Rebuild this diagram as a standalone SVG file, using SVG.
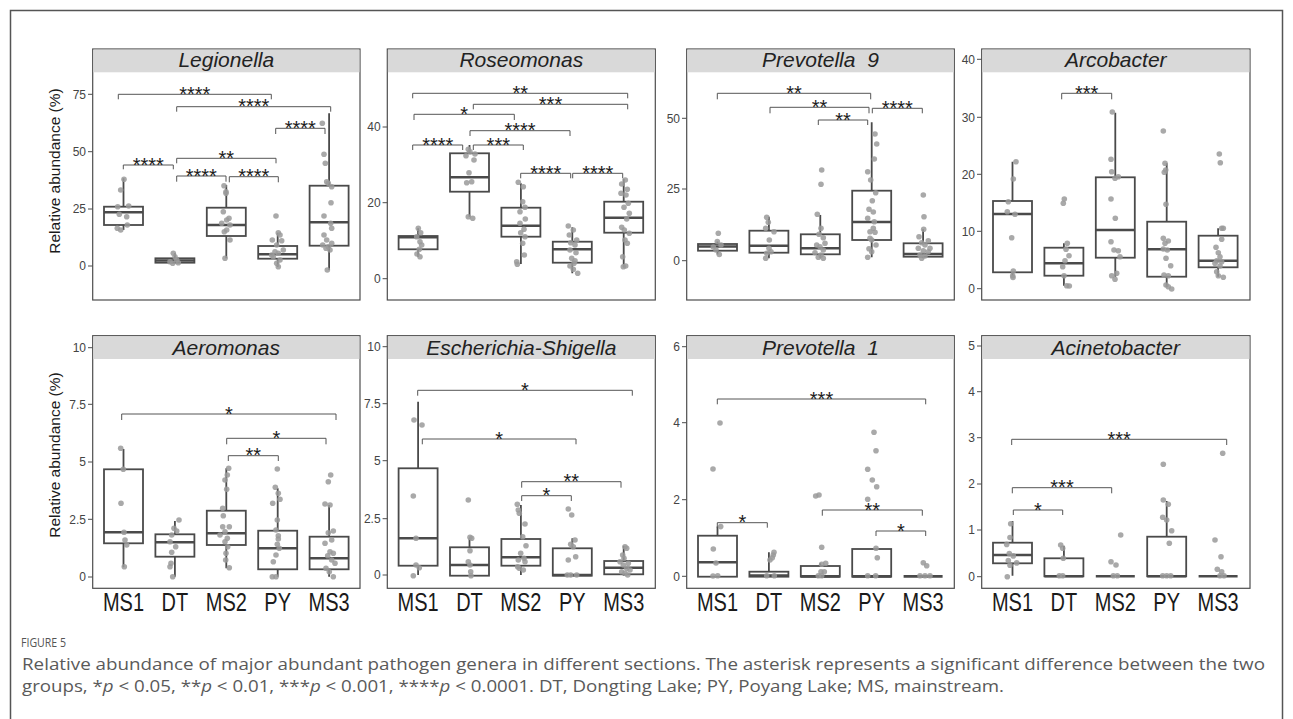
<svg xmlns="http://www.w3.org/2000/svg" xmlns:xlink="http://www.w3.org/1999/xlink" width="1293" height="719" viewBox="0 0 1293 719">
<style>
.frame{fill:none;stroke:#555;stroke-width:1.5}
.pb{fill:#fff;stroke:#4d4d4d;stroke-width:1.2}
.strip{fill:#d9d9d9}
.title{font-family:"Liberation Sans",Arial,sans-serif;font-style:italic;font-weight:normal;font-size:21px;fill:#222;text-anchor:middle}
.tk{stroke:#4d4d4d;stroke-width:1}
.tl{font-family:"Liberation Sans",Arial,sans-serif;font-size:12px;fill:#444;text-anchor:end}
.ylab{font-family:"Liberation Sans",Arial,sans-serif;font-size:15.5px;fill:#1a1a1a;text-anchor:middle}
.xl{font-family:"Liberation Sans",Arial,sans-serif;font-size:20px;fill:#1a1a1a;text-anchor:middle}
.wh{fill:none;stroke:#4a4a4a;stroke-width:1.8}
.bx{fill:#fff;stroke:#4a4a4a;stroke-width:1.8}
.md{fill:none;stroke:#4a4a4a;stroke-width:2.6}
.pts use{fill:#9a9a9a;fill-opacity:0.85}
.br{fill:none;stroke:#555;stroke-width:1}
.sig{font-family:"Liberation Sans",Arial,sans-serif;font-size:20px;fill:#1a1a1a;text-anchor:middle}
.cap{font-family:"Liberation Sans Narrow","Open Sans","Noto Sans","Liberation Sans",sans-serif;font-size:16.5px;fill:#5a5a5a}
.fig{font-family:"Liberation Sans Narrow","Open Sans","Noto Sans","Liberation Sans",sans-serif;font-size:12px;fill:#555}
</style>
<defs><circle id="d" r="2.8"/></defs>
<rect width="1293" height="719" fill="#fff"/>
<rect class="frame" x="10.5" y="10.5" width="1272" height="730"/>

<!-- Panel 1 Legionella -->
<g id="panel-legionella">
<rect class="pb" x="92.7" y="49" width="267.3" height="251"/>
<rect class="strip" x="93.3" y="49.6" width="266.1" height="22.7"/>
<text class="title" x="226.3" y="67">Legionella</text>
<path class="tk" d="M88 94.3H92.7M88 151.7H92.7M88 209H92.7M88 266H92.7"/>
<text class="tl" x="86" y="98.5">75</text><text class="tl" x="86" y="155.9">50</text><text class="tl" x="86" y="213.2">25</text><text class="tl" x="86" y="270.2">0</text>
<text class="ylab" transform="translate(60,171) rotate(-90)">Relative abundance (%)</text>
<path class="wh" d="M123.5 178.3V206.7M123.5 225V230M174.9 253.3V258.3M226.3 185V207.7M226.3 236V258.3M277.7 232.7V246M277.7 258.7V266.7M329.1 113.3V185.7M329.1 245.7V270"/>
<rect class="bx" x="104" y="206.7" width="39" height="18.3"/><rect class="bx" x="155.4" y="258.3" width="39" height="4.4"/><rect class="bx" x="206.8" y="207.7" width="39" height="28.3"/><rect class="bx" x="258.2" y="246" width="39" height="12.7"/><rect class="bx" x="309.6" y="185.7" width="39" height="60"/>
<path class="md" d="M104 212.3H143M155.4 260.5H194.4M206.8 225H245.8M258.2 254.3H297.2M309.6 222.3H348.6"/>
<g class="pts">
<use href="#d" x="124" y="179.3"/><use href="#d" x="120.7" y="190"/><use href="#d" x="117.7" y="206.7"/><use href="#d" x="128.7" y="206"/><use href="#d" x="119.3" y="214.3"/><use href="#d" x="126.7" y="216.7"/><use href="#d" x="127.3" y="225"/><use href="#d" x="117.3" y="228.3"/><use href="#d" x="120.7" y="230"/>
<use href="#d" x="173.3" y="253.3"/><use href="#d" x="175" y="256.7"/><use href="#d" x="176.7" y="260"/><use href="#d" x="170" y="261.7"/><use href="#d" x="178.3" y="262.7"/><use href="#d" x="172.7" y="263.3"/>
<use href="#d" x="224" y="185.7"/><use href="#d" x="226" y="191.7"/><use href="#d" x="226" y="193.3"/><use href="#d" x="223.3" y="211.7"/><use href="#d" x="229" y="218.3"/><use href="#d" x="226.7" y="220"/><use href="#d" x="221.7" y="223.3"/><use href="#d" x="230" y="225"/><use href="#d" x="224.3" y="231.7"/><use href="#d" x="226.7" y="230"/><use href="#d" x="230" y="240"/><use href="#d" x="225" y="258.3"/>
<use href="#d" x="276" y="216"/><use href="#d" x="278.3" y="232.7"/><use href="#d" x="280" y="235"/><use href="#d" x="272.3" y="240"/><use href="#d" x="281.7" y="240.7"/><use href="#d" x="276.7" y="245"/><use href="#d" x="283.3" y="250"/><use href="#d" x="275" y="251.7"/><use href="#d" x="278.3" y="253.3"/><use href="#d" x="271.7" y="255"/><use href="#d" x="273.3" y="256.7"/><use href="#d" x="280" y="260"/><use href="#d" x="276.7" y="263.3"/><use href="#d" x="278.3" y="266.7"/>
<use href="#d" x="322.3" y="123.3"/><use href="#d" x="324" y="154.3"/><use href="#d" x="325.3" y="163.3"/><use href="#d" x="326.7" y="181.7"/><use href="#d" x="328.3" y="183.3"/><use href="#d" x="331.7" y="186.7"/><use href="#d" x="331" y="202.7"/><use href="#d" x="324" y="216"/><use href="#d" x="330.7" y="223.3"/><use href="#d" x="331.7" y="228.3"/><use href="#d" x="324" y="235"/><use href="#d" x="326.7" y="240"/><use href="#d" x="322.7" y="245"/><use href="#d" x="328.3" y="246.7"/><use href="#d" x="326" y="248.3"/><use href="#d" x="330" y="250"/><use href="#d" x="331.7" y="243.3"/><use href="#d" x="327.3" y="270"/>
</g>
</g>

<!-- Panel 2 Roseomonas -->
<g id="panel-roseomonas">
<rect class="pb" x="387.3" y="49" width="268" height="251"/>
<rect class="strip" x="387.9" y="49.6" width="266.8" height="22.7"/>
<text class="title" x="521.3" y="67">Roseomonas</text>
<path class="tk" d="M382.6 127H387.3M382.6 202.7H387.3M382.6 278.7H387.3"/>
<text class="tl" x="380.6" y="131.2">40</text><text class="tl" x="380.6" y="206.9">20</text><text class="tl" x="380.6" y="282.9">0</text>
<path class="wh" d="M418.1 228.3V236M418.1 249.3V256.7M469.5 145V153.3M469.5 191.7V216.7M520.9 183.3V207.7M520.9 236.7V264M572.3 227.3V241.7M572.3 262.7V273.3M623.7 179V201.7M623.7 232.7V267.3"/>
<rect class="bx" x="398.6" y="236" width="39" height="13.3"/><rect class="bx" x="450" y="153.3" width="39" height="38.4"/><rect class="bx" x="501.4" y="207.7" width="39" height="29"/><rect class="bx" x="552.8" y="241.7" width="39" height="21"/><rect class="bx" x="604.2" y="201.7" width="39" height="31"/>
<path class="md" d="M398.6 237.3H437.6M450 177.3H489M501.4 225.7H540.4M552.8 249.3H591.8M604.2 217.7H643.2"/>
<g class="pts">
<use href="#d" x="418.3" y="228.3"/><use href="#d" x="420.7" y="232.7"/><use href="#d" x="416.7" y="236.7"/><use href="#d" x="420" y="241.7"/><use href="#d" x="421.7" y="245"/><use href="#d" x="419.3" y="249.3"/><use href="#d" x="417" y="254"/><use href="#d" x="420" y="256.7"/>
<use href="#d" x="468.3" y="149.3"/><use href="#d" x="470" y="151.7"/><use href="#d" x="475" y="154"/><use href="#d" x="466" y="155.7"/><use href="#d" x="474" y="160"/><use href="#d" x="469" y="172.7"/><use href="#d" x="466.7" y="182.7"/><use href="#d" x="471.7" y="181.7"/><use href="#d" x="468.3" y="216.7"/><use href="#d" x="472.7" y="218.3"/>
<use href="#d" x="518.3" y="182.3"/><use href="#d" x="523.3" y="186.7"/><use href="#d" x="522.7" y="201.7"/><use href="#d" x="525" y="207.3"/><use href="#d" x="520" y="211.7"/><use href="#d" x="525.3" y="219"/><use href="#d" x="520" y="223.3"/><use href="#d" x="524" y="229.3"/><use href="#d" x="520.7" y="232.7"/><use href="#d" x="525" y="236.7"/><use href="#d" x="522.7" y="243.3"/><use href="#d" x="524.3" y="255"/><use href="#d" x="516.7" y="261.7"/><use href="#d" x="517.3" y="264.3"/>
<use href="#d" x="568.3" y="226"/><use href="#d" x="573.3" y="230"/><use href="#d" x="569.3" y="235"/><use href="#d" x="576.7" y="240"/><use href="#d" x="570.7" y="242.7"/><use href="#d" x="575" y="245"/><use href="#d" x="570" y="250"/><use href="#d" x="576" y="252.7"/><use href="#d" x="571.7" y="258.3"/><use href="#d" x="575" y="260.7"/><use href="#d" x="574" y="263.3"/><use href="#d" x="570" y="266"/><use href="#d" x="573.3" y="269.3"/><use href="#d" x="577.7" y="273.3"/>
<use href="#d" x="625.3" y="180"/><use href="#d" x="621.7" y="184"/><use href="#d" x="627.3" y="189.3"/><use href="#d" x="621" y="193.3"/><use href="#d" x="626" y="195"/><use href="#d" x="628.3" y="203.3"/><use href="#d" x="624" y="207.3"/><use href="#d" x="629.3" y="213.3"/><use href="#d" x="626.7" y="219"/><use href="#d" x="621.7" y="227.3"/><use href="#d" x="624.3" y="230"/><use href="#d" x="629.3" y="233.3"/><use href="#d" x="625" y="240"/><use href="#d" x="627.3" y="243.3"/><use href="#d" x="622.7" y="256.7"/><use href="#d" x="625.7" y="266"/><use href="#d" x="623.3" y="266.7"/>
</g>
</g>

<!-- Panel 3 Prevotella 9 -->
<g id="panel-prevotella9">
<rect class="pb" x="686.7" y="49" width="267.6" height="251"/>
<rect class="strip" x="687.3" y="49.6" width="266.4" height="22.7"/>
<text class="title" x="820.5" y="67" word-spacing="6">Prevotella 9</text>
<path class="tk" d="M682 118.3H686.7M682 189H686.7M682 260.7H686.7"/>
<text class="tl" x="680" y="122.5">50</text><text class="tl" x="680" y="193.2">25</text><text class="tl" x="680" y="264.9">0</text>
<path class="wh" d="M717.5 241.5V244M717.5 250.7V254.5M768.9 216.7V230.7M768.9 252.7V258.3M820.3 215V234.3M820.3 254.3V258.3M871.7 122.3V190.7M871.7 240V257.3M923.1 229.3V243.3M923.1 256.7V258.3"/>
<rect class="bx" x="698" y="244" width="39" height="6.7"/><rect class="bx" x="749.4" y="230.7" width="39" height="22"/><rect class="bx" x="800.8" y="234.3" width="39" height="20"/><rect class="bx" x="852.2" y="190.7" width="39" height="49.3"/><rect class="bx" x="903.6" y="243.3" width="39" height="13.4"/>
<path class="md" d="M698 246.5H737M749.4 245.7H788.4M800.8 248.3H839.8M852.2 222H891.2M903.6 254H942.6"/>
<g class="pts">
<use href="#d" x="718.3" y="233.3"/><use href="#d" x="717.3" y="241.5"/><use href="#d" x="713.3" y="247"/><use href="#d" x="721" y="245"/><use href="#d" x="716" y="250"/><use href="#d" x="719.3" y="254.5"/>
<use href="#d" x="766.7" y="217.3"/><use href="#d" x="768.3" y="222.3"/><use href="#d" x="765.7" y="228.3"/><use href="#d" x="774" y="231.7"/><use href="#d" x="769.3" y="240"/><use href="#d" x="769" y="248.3"/><use href="#d" x="771" y="251.7"/><use href="#d" x="766.7" y="253.3"/><use href="#d" x="765.7" y="258.3"/>
<use href="#d" x="821.7" y="170"/><use href="#d" x="821" y="184.3"/><use href="#d" x="817.3" y="214.3"/><use href="#d" x="821" y="228.3"/><use href="#d" x="819" y="234.3"/><use href="#d" x="823.3" y="237.7"/><use href="#d" x="825" y="243.3"/><use href="#d" x="816.7" y="245"/><use href="#d" x="820" y="246.7"/><use href="#d" x="823.3" y="250"/><use href="#d" x="815" y="252.7"/><use href="#d" x="821" y="255"/><use href="#d" x="818.3" y="257.3"/><use href="#d" x="823.3" y="258.3"/>
<use href="#d" x="875" y="134"/><use href="#d" x="876.7" y="144"/><use href="#d" x="874.3" y="159"/><use href="#d" x="867.7" y="171.7"/><use href="#d" x="870.7" y="180"/><use href="#d" x="875.7" y="192.7"/><use href="#d" x="872.3" y="200.7"/><use href="#d" x="869" y="209.3"/><use href="#d" x="873.3" y="212"/><use href="#d" x="867.7" y="218.3"/><use href="#d" x="874.3" y="221.7"/><use href="#d" x="873.3" y="228.3"/><use href="#d" x="870" y="231.7"/><use href="#d" x="875" y="232.3"/><use href="#d" x="870" y="238.3"/><use href="#d" x="871.7" y="240"/><use href="#d" x="876" y="245"/><use href="#d" x="869" y="248.7"/><use href="#d" x="871.7" y="251.7"/><use href="#d" x="867.7" y="257.3"/>
<use href="#d" x="923.3" y="195"/><use href="#d" x="924" y="216.7"/><use href="#d" x="923.7" y="229.3"/><use href="#d" x="919" y="236.7"/><use href="#d" x="928.3" y="240.7"/><use href="#d" x="921.7" y="242.7"/><use href="#d" x="925" y="245"/><use href="#d" x="930" y="248.3"/><use href="#d" x="918.3" y="248.3"/><use href="#d" x="923.3" y="250.7"/><use href="#d" x="928.3" y="251.7"/><use href="#d" x="920" y="255"/><use href="#d" x="925" y="256"/><use href="#d" x="921.7" y="258.3"/>
</g>
</g>

<!-- Panel 4 Arcobacter -->
<g id="panel-arcobacter">
<rect class="pb" x="981.7" y="49" width="268.3" height="251"/>
<rect class="strip" x="982.3" y="49.6" width="267.1" height="22.7"/>
<text class="title" x="1115.8" y="67">Arcobacter</text>
<path class="tk" d="M977 59.3H981.7M977 117.3H981.7M977 174.3H981.7M977 231.3H981.7M977 288.7H981.7"/>
<text class="tl" x="975" y="63.5">40</text><text class="tl" x="975" y="121.5">30</text><text class="tl" x="975" y="178.5">20</text><text class="tl" x="975" y="235.5">10</text><text class="tl" x="975" y="292.9">0</text>
<path class="wh" d="M1012.5 161.7V201M1012.5 272.3V275.7M1063.9 243.3V247.7M1063.9 275.7V285.7M1115.3 112.7V177.3M1115.3 257.7V276.7M1166.7 163.3V221.7M1166.7 276.7V286.7M1218.1 228.3V235.7M1218.1 267.3V276.7"/>
<rect class="bx" x="993" y="201" width="39" height="71.3"/><rect class="bx" x="1044.4" y="247.7" width="39" height="28"/><rect class="bx" x="1095.8" y="177.3" width="39" height="80.4"/><rect class="bx" x="1147.2" y="221.7" width="39" height="55"/><rect class="bx" x="1198.6" y="235.7" width="39" height="31.6"/>
<path class="md" d="M993 214H1032M1044.4 263.3H1083.4M1095.8 230H1134.8M1147.2 249.3H1186.2M1198.6 260.7H1237.6"/>
<g class="pts">
<use href="#d" x="1016" y="161.7"/><use href="#d" x="1013.3" y="179"/><use href="#d" x="1008.3" y="201.7"/><use href="#d" x="1007.3" y="211.7"/><use href="#d" x="1015" y="214.3"/><use href="#d" x="1011.7" y="237.7"/><use href="#d" x="1013.3" y="271"/><use href="#d" x="1012.7" y="275.7"/><use href="#d" x="1013" y="277.5"/>
<use href="#d" x="1064.3" y="199"/><use href="#d" x="1063.3" y="203.3"/><use href="#d" x="1067.3" y="243.3"/><use href="#d" x="1066" y="249.3"/><use href="#d" x="1069" y="255.7"/><use href="#d" x="1065" y="260.7"/><use href="#d" x="1062.7" y="266.7"/><use href="#d" x="1064" y="275.7"/><use href="#d" x="1066.7" y="285.7"/><use href="#d" x="1069.3" y="286"/>
<use href="#d" x="1112.3" y="112"/><use href="#d" x="1111" y="159.3"/><use href="#d" x="1111.7" y="171.7"/><use href="#d" x="1115" y="178.3"/><use href="#d" x="1118.3" y="176.7"/><use href="#d" x="1111" y="199"/><use href="#d" x="1115.3" y="218.3"/><use href="#d" x="1111" y="241.7"/><use href="#d" x="1114" y="250"/><use href="#d" x="1118.3" y="250.7"/><use href="#d" x="1120" y="256.7"/><use href="#d" x="1116.7" y="273.3"/><use href="#d" x="1111.7" y="275.7"/><use href="#d" x="1115" y="279.3"/>
<use href="#d" x="1163.3" y="131"/><use href="#d" x="1165" y="163.3"/><use href="#d" x="1165.7" y="170"/><use href="#d" x="1164.3" y="172.3"/><use href="#d" x="1166" y="204.3"/><use href="#d" x="1163.3" y="238.3"/><use href="#d" x="1168.3" y="241"/><use href="#d" x="1165" y="243.3"/><use href="#d" x="1163.3" y="249"/><use href="#d" x="1167.3" y="250"/><use href="#d" x="1166" y="258.3"/><use href="#d" x="1170.7" y="265.7"/><use href="#d" x="1164" y="275"/><use href="#d" x="1168.3" y="275.7"/><use href="#d" x="1166" y="285"/><use href="#d" x="1168.3" y="286.7"/><use href="#d" x="1171.7" y="289"/>
<use href="#d" x="1219.3" y="154"/><use href="#d" x="1220.3" y="162.7"/><use href="#d" x="1221.7" y="228.3"/><use href="#d" x="1223.3" y="228.3"/><use href="#d" x="1221.7" y="239.3"/><use href="#d" x="1216" y="247.3"/><use href="#d" x="1218.3" y="252.7"/><use href="#d" x="1220" y="256.7"/><use href="#d" x="1216.7" y="260.7"/><use href="#d" x="1221.7" y="261.7"/><use href="#d" x="1215" y="263.3"/><use href="#d" x="1220" y="266"/><use href="#d" x="1216.7" y="271.7"/><use href="#d" x="1218.3" y="275.7"/><use href="#d" x="1223.3" y="277.3"/>
</g>
</g>

<!-- Panel 5 Aeromonas -->
<g id="panel-aeromonas">
<rect class="pb" x="92.7" y="335.7" width="267.3" height="252.6"/>
<rect class="strip" x="93.3" y="336.3" width="266.1" height="22.7"/>
<text class="title" x="226.3" y="354.5">Aeromonas</text>
<path class="tk" d="M88 347.7H92.7M88 404.3H92.7M88 462H92.7M88 519.3H92.7M88 577H92.7"/>
<text class="tl" x="86" y="351.9">10</text><text class="tl" x="86" y="408.5">7.5</text><text class="tl" x="86" y="466.2">5</text><text class="tl" x="86" y="523.5">2.5</text><text class="tl" x="86" y="581.2">0</text>
<text class="ylab" transform="translate(60,455) rotate(-90)">Relative abundance (%)</text>
<path class="wh" d="M123.5 449V469.3M123.5 543.3V567.3M174.9 521V534.3M174.9 556.7V576.7M226.3 468.3V510.7M226.3 545V568.3M277.7 488.3V530.7M277.7 569.3V576.7M329.1 505V536.7M329.1 569.3V576.7"/>
<rect class="bx" x="104" y="469.3" width="39" height="74"/><rect class="bx" x="155.4" y="534.3" width="39" height="22.4"/><rect class="bx" x="206.8" y="510.7" width="39" height="34.3"/><rect class="bx" x="258.2" y="530.7" width="39" height="38.6"/><rect class="bx" x="309.6" y="536.7" width="39" height="32.6"/>
<path class="md" d="M104 532.3H143M155.4 542.3H194.4M206.8 533.3H245.8M258.2 548.3H297.2M309.6 558.3H348.6"/>
<g class="pts">
<use href="#d" x="120.7" y="448.3"/><use href="#d" x="123.3" y="469.3"/><use href="#d" x="121" y="503.3"/><use href="#d" x="124" y="532.3"/><use href="#d" x="125" y="540"/><use href="#d" x="126.7" y="545"/><use href="#d" x="124.3" y="566.7"/>
<use href="#d" x="179" y="520"/><use href="#d" x="174" y="528.3"/><use href="#d" x="176.7" y="531"/><use href="#d" x="171.7" y="535"/><use href="#d" x="170" y="541.7"/><use href="#d" x="175.7" y="546.7"/><use href="#d" x="171.7" y="552.3"/><use href="#d" x="171" y="563.3"/><use href="#d" x="170" y="566.7"/><use href="#d" x="172.7" y="576.7"/>
<use href="#d" x="228.7" y="468.3"/><use href="#d" x="227.3" y="475"/><use href="#d" x="225" y="480"/><use href="#d" x="226.7" y="489.3"/><use href="#d" x="222.7" y="508.3"/><use href="#d" x="223.3" y="515.7"/><use href="#d" x="229.3" y="526.7"/><use href="#d" x="222.7" y="526.7"/><use href="#d" x="225" y="531.7"/><use href="#d" x="220" y="535"/><use href="#d" x="227.3" y="538.3"/><use href="#d" x="225" y="541.7"/><use href="#d" x="227.7" y="546.7"/><use href="#d" x="226" y="553.3"/><use href="#d" x="225.7" y="560"/><use href="#d" x="229.3" y="567.7"/>
<use href="#d" x="277.3" y="469"/><use href="#d" x="275.3" y="487.3"/><use href="#d" x="278.3" y="493.3"/><use href="#d" x="280" y="499.3"/><use href="#d" x="272.7" y="503.3"/><use href="#d" x="277.3" y="520"/><use href="#d" x="276" y="530"/><use href="#d" x="278.3" y="535.7"/><use href="#d" x="278.3" y="539"/><use href="#d" x="277.3" y="544.3"/><use href="#d" x="279.3" y="548.3"/><use href="#d" x="276" y="555"/><use href="#d" x="273.3" y="561.7"/><use href="#d" x="272.3" y="576.7"/><use href="#d" x="276" y="576.7"/>
<use href="#d" x="330.7" y="475"/><use href="#d" x="328.3" y="481.7"/><use href="#d" x="325" y="504"/><use href="#d" x="330" y="505"/><use href="#d" x="333.3" y="531"/><use href="#d" x="328.3" y="532.7"/><use href="#d" x="331.7" y="540"/><use href="#d" x="325" y="543.3"/><use href="#d" x="330" y="551.7"/><use href="#d" x="333.3" y="553.3"/><use href="#d" x="327.7" y="555.7"/><use href="#d" x="331.7" y="560"/><use href="#d" x="335" y="563.3"/><use href="#d" x="326" y="568.3"/><use href="#d" x="329.3" y="571.7"/><use href="#d" x="333.3" y="576.7"/>
</g>
</g>

<!-- Panel 6 Escherichia-Shigella -->
<g id="panel-escherichia">
<rect class="pb" x="387.3" y="335.7" width="268" height="252.6"/>
<rect class="strip" x="387.9" y="336.3" width="266.8" height="22.7"/>
<text class="title" x="521.3" y="354.5">Escherichia-Shigella</text>
<path class="tk" d="M382.6 346.7H387.3M382.6 403.7H387.3M382.6 460.7H387.3M382.6 518.7H387.3M382.6 575H387.3"/>
<text class="tl" x="380.6" y="350.9">10</text><text class="tl" x="380.6" y="407.9">7.5</text><text class="tl" x="380.6" y="464.9">5</text><text class="tl" x="380.6" y="522.9">2.5</text><text class="tl" x="380.6" y="579.2">0</text>
<path class="wh" d="M418.1 401.7V468.3M418.1 565.7V575M469.5 538.3V547.3M520.9 505V539M520.9 565.7V575M572.3 538.3V548.3M623.7 545.7V561M623.7 574.3V575.7"/>
<rect class="bx" x="398.6" y="468.3" width="39" height="97.4"/><rect class="bx" x="450" y="547.3" width="39" height="28.4"/><rect class="bx" x="501.4" y="539" width="39" height="26.7"/><rect class="bx" x="552.8" y="548.3" width="39" height="27.4"/><rect class="bx" x="604.2" y="561" width="39" height="13.3"/>
<path class="md" d="M398.6 538.3H437.6M450 565H489M501.4 557.3H540.4M552.8 575H591.8M604.2 567.7H643.2"/>
<g class="pts">
<use href="#d" x="414" y="420"/><use href="#d" x="422" y="425"/><use href="#d" x="413.3" y="496"/><use href="#d" x="416" y="538.3"/><use href="#d" x="416" y="565"/><use href="#d" x="419.3" y="567.7"/><use href="#d" x="413.3" y="575.7"/>
<use href="#d" x="468.3" y="500"/><use href="#d" x="470" y="537.3"/><use href="#d" x="471.7" y="538.3"/><use href="#d" x="470" y="550.7"/><use href="#d" x="468.3" y="561.7"/><use href="#d" x="470" y="565"/><use href="#d" x="470.7" y="571.7"/><use href="#d" x="471" y="575.7"/>
<use href="#d" x="517.3" y="504.3"/><use href="#d" x="518.3" y="510"/><use href="#d" x="519.3" y="513.3"/><use href="#d" x="525" y="524"/><use href="#d" x="522.7" y="536.7"/><use href="#d" x="526" y="545.7"/><use href="#d" x="520.7" y="553.3"/><use href="#d" x="524" y="558.3"/><use href="#d" x="518.3" y="560"/><use href="#d" x="525" y="561.7"/><use href="#d" x="517.7" y="566.7"/><use href="#d" x="519.3" y="568.3"/><use href="#d" x="523.3" y="570"/>
<use href="#d" x="568.3" y="509"/><use href="#d" x="571.7" y="515"/><use href="#d" x="575" y="540"/><use href="#d" x="570.7" y="544.3"/><use href="#d" x="573.3" y="546.7"/><use href="#d" x="575.7" y="556.7"/><use href="#d" x="568.3" y="560"/><use href="#d" x="567.3" y="575"/><use href="#d" x="570.7" y="575"/><use href="#d" x="576.7" y="575"/>
<use href="#d" x="625" y="546.7"/><use href="#d" x="626.7" y="548.3"/><use href="#d" x="622.7" y="555"/><use href="#d" x="624" y="558.3"/><use href="#d" x="620" y="561.7"/><use href="#d" x="628.3" y="563.3"/><use href="#d" x="623.3" y="565"/><use href="#d" x="626.7" y="568.3"/><use href="#d" x="630" y="570"/><use href="#d" x="621.7" y="571.7"/><use href="#d" x="625" y="573.3"/><use href="#d" x="627.7" y="575"/>
</g>
</g>

<!-- Panel 7 Prevotella 1 -->
<g id="panel-prevotella1">
<rect class="pb" x="686.7" y="335.7" width="267.6" height="252.6"/>
<rect class="strip" x="687.3" y="336.3" width="266.4" height="22.7"/>
<text class="title" x="820.5" y="354.5" word-spacing="6">Prevotella 1</text>
<path class="tk" d="M682 346.7H686.7M682 422.7H686.7M682 499.7H686.7M682 576.3H686.7"/>
<text class="tl" x="680" y="350.9">6</text><text class="tl" x="680" y="426.9">4</text><text class="tl" x="680" y="503.9">2</text><text class="tl" x="680" y="580.5">0</text>
<path class="wh" d="M717.5 526.6V535.7M768.9 552.3V571.7M820.3 563.3V566"/>
<rect class="bx" x="698" y="535.7" width="39" height="41"/><rect class="bx" x="749.4" y="571.7" width="39" height="5"/><rect class="bx" x="800.8" y="566" width="39" height="10.7"/><rect class="bx" x="852.2" y="549" width="39" height="27.7"/>
<path class="md" d="M698 562.3H737M749.4 575.5H788.4M800.8 576.4H839.8M852.2 576.4H891.2M903.6 576.4H942.6"/>
<g class="pts">
<use href="#d" x="720" y="423"/><use href="#d" x="713" y="469"/><use href="#d" x="720.7" y="526.6"/><use href="#d" x="713.3" y="549"/><use href="#d" x="716" y="563"/><use href="#d" x="717.7" y="575.7"/><use href="#d" x="713" y="576"/>
<use href="#d" x="774" y="552.3"/><use href="#d" x="773.3" y="555"/><use href="#d" x="772.3" y="557.7"/><use href="#d" x="770" y="560"/><use href="#d" x="766.7" y="575.7"/><use href="#d" x="774.3" y="575.7"/>
<use href="#d" x="819" y="495"/><use href="#d" x="815.7" y="496"/><use href="#d" x="821.7" y="547.3"/><use href="#d" x="825.7" y="563.3"/><use href="#d" x="821.7" y="564.3"/><use href="#d" x="821" y="571.7"/><use href="#d" x="824.3" y="571.7"/><use href="#d" x="818.3" y="575.7"/><use href="#d" x="821.7" y="575.7"/>
<use href="#d" x="874" y="432.3"/><use href="#d" x="876" y="450.7"/><use href="#d" x="867.7" y="469.3"/><use href="#d" x="872.3" y="480"/><use href="#d" x="876.7" y="486.7"/><use href="#d" x="867.7" y="499.3"/><use href="#d" x="876" y="548.3"/><use href="#d" x="877.3" y="557.7"/><use href="#d" x="867.7" y="575.7"/><use href="#d" x="875.7" y="575.7"/>
<use href="#d" x="923.3" y="562.7"/><use href="#d" x="926.7" y="565.7"/><use href="#d" x="920" y="575.7"/><use href="#d" x="925" y="575.7"/><use href="#d" x="930" y="575.7"/>
</g>
</g>

<!-- Panel 8 Acinetobacter -->
<g id="panel-acinetobacter">
<rect class="pb" x="981.7" y="335.7" width="268.3" height="252.6"/>
<rect class="strip" x="982.3" y="336.3" width="267.1" height="22.7"/>
<text class="title" x="1115.8" y="354.5">Acinetobacter</text>
<path class="tk" d="M977 346H981.7M977 391.7H981.7M977 437.7H981.7M977 484H981.7M977 530H981.7M977 576.7H981.7"/>
<text class="tl" x="975" y="350.2">5</text><text class="tl" x="975" y="395.9">4</text><text class="tl" x="975" y="441.9">3</text><text class="tl" x="975" y="488.2">2</text><text class="tl" x="975" y="534.2">1</text><text class="tl" x="975" y="580.9">0</text>
<path class="wh" d="M1012.5 521V542.7M1012.5 563.3V575.7M1063.9 545.7V558.3M1166.7 501V536.7"/>
<rect class="bx" x="993" y="542.7" width="39" height="20.6"/><rect class="bx" x="1044.4" y="558.3" width="39" height="18"/><rect class="bx" x="1147.2" y="536.7" width="39" height="39.6"/>
<path class="md" d="M993 555H1032M1044.4 576.3H1083.4M1095.8 576.3H1134.8M1147.2 576.3H1186.2M1198.6 576.3H1237.6"/>
<g class="pts">
<use href="#d" x="1010.7" y="523.7"/><use href="#d" x="1010" y="537.5"/><use href="#d" x="1006.7" y="544.4"/><use href="#d" x="1009.3" y="553.6"/><use href="#d" x="1013.3" y="555.9"/><use href="#d" x="1008.3" y="560.6"/><use href="#d" x="1016.7" y="562.9"/><use href="#d" x="1010" y="565.2"/><use href="#d" x="1007.3" y="576.7"/>
<use href="#d" x="1060.7" y="545"/><use href="#d" x="1062.7" y="548.3"/><use href="#d" x="1063.3" y="558.3"/><use href="#d" x="1059.3" y="575.7"/><use href="#d" x="1062.7" y="575.7"/>
<use href="#d" x="1120.7" y="535"/><use href="#d" x="1111" y="561.7"/><use href="#d" x="1116" y="565"/><use href="#d" x="1113.3" y="575.7"/><use href="#d" x="1117.3" y="575.7"/>
<use href="#d" x="1163.3" y="464.3"/><use href="#d" x="1163.3" y="500"/><use href="#d" x="1168.3" y="504.3"/><use href="#d" x="1162.7" y="517.3"/><use href="#d" x="1166.7" y="520"/><use href="#d" x="1171.7" y="530.7"/><use href="#d" x="1169.3" y="543.3"/><use href="#d" x="1162.7" y="575.7"/><use href="#d" x="1166.7" y="575.7"/><use href="#d" x="1170.7" y="575.7"/>
<use href="#d" x="1222.7" y="453.3"/><use href="#d" x="1215" y="540"/><use href="#d" x="1221" y="556.7"/><use href="#d" x="1217.3" y="569.3"/><use href="#d" x="1221.7" y="571.7"/><use href="#d" x="1220" y="575.7"/><use href="#d" x="1224" y="575.7"/>
</g>
</g>

<!-- x-axis labels -->
<g id="x-labels">
<g transform="translate(0,611) scale(1,1.3)"><text class="xl" x="123.5" y="0">MS1</text><text class="xl" x="174.9" y="0">DT</text><text class="xl" x="226.3" y="0">MS2</text><text class="xl" x="277.7" y="0">PY</text><text class="xl" x="329.1" y="0">MS3</text></g>
<g transform="translate(0,611) scale(1,1.3)"><text class="xl" x="418.1" y="0">MS1</text><text class="xl" x="469.5" y="0">DT</text><text class="xl" x="520.9" y="0">MS2</text><text class="xl" x="572.3" y="0">PY</text><text class="xl" x="623.7" y="0">MS3</text></g>
<g transform="translate(0,611) scale(1,1.3)"><text class="xl" x="717.5" y="0">MS1</text><text class="xl" x="768.9" y="0">DT</text><text class="xl" x="820.3" y="0">MS2</text><text class="xl" x="871.7" y="0">PY</text><text class="xl" x="923.1" y="0">MS3</text></g>
<g transform="translate(0,611) scale(1,1.3)"><text class="xl" x="1012.5" y="0">MS1</text><text class="xl" x="1063.9" y="0">DT</text><text class="xl" x="1115.3" y="0">MS2</text><text class="xl" x="1166.7" y="0">PY</text><text class="xl" x="1218.1" y="0">MS3</text></g>
</g>

<!-- significance brackets (connectors) -->
<g id="connectors">
<path class="br" d="M118.3 99.3V94.3H271.3V99.3M176.7 111.7V106.7H330.7V111.7M275.7 134V128.3H325V134M123.3 169.3V165H173.3V169.3M176.7 163.3V158.3H276V163.3M176.7 181.7V176H226V181.7M229.3 182.3V176.7H278.3V182.3"/>
<text class="sig" x="194.8" y="100.8">****</text><text class="sig" x="253.7" y="113.2">****</text><text class="sig" x="300.3" y="134.8">****</text><text class="sig" x="148.3" y="171.5">****</text><text class="sig" x="226.3" y="164.8">**</text><text class="sig" x="201.3" y="182.5">****</text><text class="sig" x="253.8" y="183.2">****</text>
<path class="br" d="M412.7 98.3V93.3H627.7V98.3M473.3 109.3V104.3H627.7V109.3M414 120V114.3H514.3V120M470 136V130.7H570V136M412.7 150V145H462.7V150M473.3 150V145H523.3V150M520.7 178.3V173.3H570.7V178.3M572.7 178.3V173.3H622.7V178.3"/>
<text class="sig" x="520.2" y="99.8">**</text><text class="sig" x="550.5" y="110.8">***</text><text class="sig" x="464.2" y="120.8">*</text><text class="sig" x="520" y="137.2">****</text><text class="sig" x="437.7" y="151.5">****</text><text class="sig" x="498.3" y="151.5">***</text><text class="sig" x="545.7" y="179.8">****</text><text class="sig" x="597.7" y="179.8">****</text>
<path class="br" d="M717.3 99.3V93.3H870.7V99.3M770 113.3V107.3H869V113.3M818.3 125V120H867.7V125M872.3 113.3V108.3H922.3V113.3"/>
<text class="sig" x="794" y="99.8">**</text><text class="sig" x="819.5" y="113.8">**</text><text class="sig" x="843" y="126.5">**</text><text class="sig" x="897.3" y="114.8">****</text>
<path class="br" d="M1061.7 99.3V93.3H1111.7V99.3"/>
<text class="sig" x="1086.7" y="99.8">***</text>
<path class="br" d="M121.7 420V414H336V420M226.7 444.3V438.3H326V444.3M228.3 461V455.7H278.3V461"/>
<text class="sig" x="228.8" y="420.5">*</text><text class="sig" x="276.3" y="444.8">*</text><text class="sig" x="253.3" y="462.2">**</text>
<path class="br" d="M417.7 395.7V390.3H632.3V395.7M422.3 444.3V439H576V444.3M521.7 487.7V481.7H621V487.7M521.7 501V495.7H571.3V501"/>
<text class="sig" x="525" y="396.8">*</text><text class="sig" x="499.2" y="445.5">*</text><text class="sig" x="571.3" y="488.2">**</text><text class="sig" x="546.5" y="502.2">*</text>
<path class="br" d="M717.3 404.3V399H925.7V404.3M717.3 527.7V522.7H767.3V527.7M822.3 515.7V510H922.3V515.7M876 536V531H925.7V536"/>
<text class="sig" x="821.5" y="405.5">***</text><text class="sig" x="742.3" y="529.2">*</text><text class="sig" x="872.3" y="516.5">**</text><text class="sig" x="900.8" y="537.5">*</text>
<path class="br" d="M1011.7 445V439.3H1226.7V445M1012.3 493.3V487.7H1111.7V493.3M1013.3 515V510H1062.7V515"/>
<text class="sig" x="1119.2" y="445.8">***</text><text class="sig" x="1062" y="494.2">***</text><text class="sig" x="1038" y="516.5">*</text>
</g>

<!-- caption -->
<g id="caption">
<text class="fig" x="21" y="647" textLength="45" lengthAdjust="spacingAndGlyphs">FIGURE 5</text>
<text class="cap" x="22" y="670" textLength="1243" lengthAdjust="spacingAndGlyphs">Relative abundance of major abundant pathogen genera in different sections. The asterisk represents a significant difference between the two</text>
<text class="cap" x="22" y="692" textLength="982" lengthAdjust="spacingAndGlyphs">groups, *<tspan font-style="italic">p</tspan> &lt; 0.05, **<tspan font-style="italic">p</tspan> &lt; 0.01, ***<tspan font-style="italic">p</tspan> &lt; 0.001, ****<tspan font-style="italic">p</tspan> &lt; 0.0001. DT, Dongting Lake; PY, Poyang Lake; MS, mainstream.</text>
</g>
</svg>
